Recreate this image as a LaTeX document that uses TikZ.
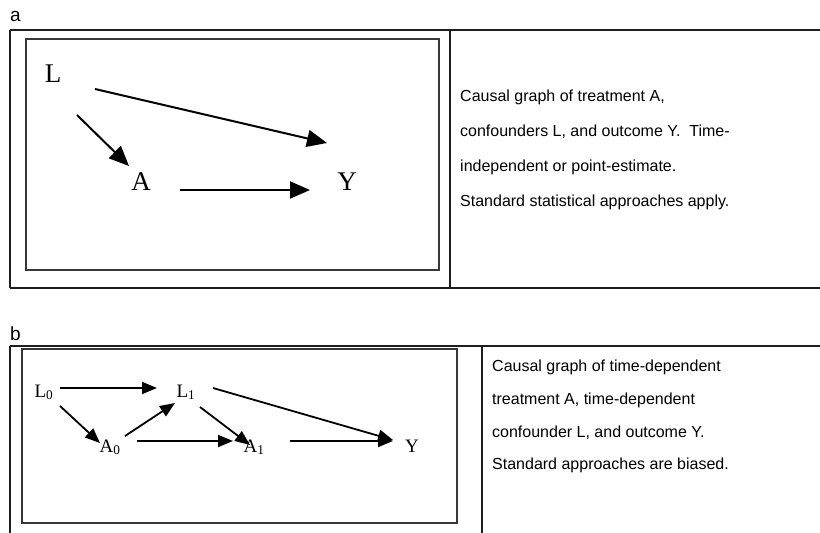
\documentclass[tikz,border=0pt]{standalone}
\usepackage{fontspec}
\setmainfont{Liberation Serif}
\setsansfont{Liberation Sans}
\usetikzlibrary{arrows.meta,positioning,calc}
\definecolor{myrule}{RGB}{30,30,30}
\definecolor{myframe}{RGB}{55,55,55}

\begin{document}
\begin{tikzpicture}[x=1pt,y=-1pt,
rule/.style={draw=myrule,line width=1.2pt},
framebox/.style={draw=myframe,line width=2.8pt},
vara/.style={font=\fontsize{27}{27}\selectfont,inner sep=0pt,anchor=base},
varb/.style={font=\fontsize{19}{19}\selectfont,inner sep=0pt,anchor=base},
arra/.style={line width=2pt,-{Triangle[length=20pt,width=17pt]}},
arrb/.style={line width=1.8pt,-{Triangle[length=15pt,width=12pt]}},
panel/.style={font=\sffamily\fontsize{19}{19}\selectfont,inner sep=0pt,anchor=base west},
caption/.style={font=\sffamily\fontsize{16}{35}\selectfont,inner sep=0pt,anchor=north west,align=left},
]
\path[use as bounding box,fill=white] (0,0) rectangle (820,533);

% panel a
\node[panel] (pa) at (10,21) {a};
\draw[rule] (10,30) -- (820,30) (10,288) -- (820,288)
  (10,30) -- (10,288) (450,30) -- (450,288);
\draw[framebox] (26,39) rectangle (439,270);
\node[vara] (L) at (53,82) {L};
\node[vara] (A) at (141,190) {A};
\node[vara] (Y) at (347,190) {Y};
\draw[arra] ([shift={(42,7)}]L.base) -- ([shift={(-20,-47)}]Y.base);
\draw[arra] ([shift={(24,33)}]L.base) -- ([shift={(-12,-24)}]A.base);
\draw[arra] ([shift={(39,0)}]A.base) -- ([shift={(-37,0)}]Y.base);
\node[caption] (capa) at (460,90) {Causal graph of treatment A,\\
confounders L, and outcome Y.\ \ Time-\\
independent or point-estimate.\\
Standard statistical approaches apply.};

% panel b
\node[panel] (pb) at (10,340) {b};
\draw[rule] (10,346) -- (820,346) (10,346) -- (10,533) (482,346) -- (482,533);
\draw[framebox] (22,349) rectangle (457,523);
\node[varb] (L0) at (44,397) {L\textsubscript{0}};
\node[varb] (L1) at (186,397) {L\textsubscript{1}};
\node[varb] (A0) at (110,452) {A\textsubscript{0}};
\node[varb] (A1) at (254,452) {A\textsubscript{1}};
\node[varb] (Yb) at (412,452) {Y};
\draw[arrb] ([shift={(16,-9)}]L0.base) -- ([shift={(-29,-9)}]L1.base);
\draw[arrb] ([shift={(16,9)}]L0.base) -- ([shift={(-10,-9)}]A0.base);
\draw[arrb] ([shift={(15,-16)}]A0.base) -- ([shift={(-11,6)}]L1.base);
\draw[arrb] ([shift={(14,10)}]L1.base) -- ([shift={(-4,-7)}]A1.base);
\draw[arrb] ([shift={(27,-11)}]A0.base) -- ([shift={(-21,-11)}]A1.base);
\draw[arrb] ([shift={(27,-9)}]L1.base) -- ([shift={(-19,-12)}]Yb.base);
\draw[arrb] ([shift={(36,-11)}]A1.base) -- ([shift={(-19,-11)}]Yb.base);
\node[caption,font=\sffamily\fontsize{16}{32.7}\selectfont] (capb) at (492,360) {Causal graph of time-dependent\\
treatment A, time-dependent\\
confounder L, and outcome Y.\\
Standard approaches are biased.};
\end{tikzpicture}
\end{document}
